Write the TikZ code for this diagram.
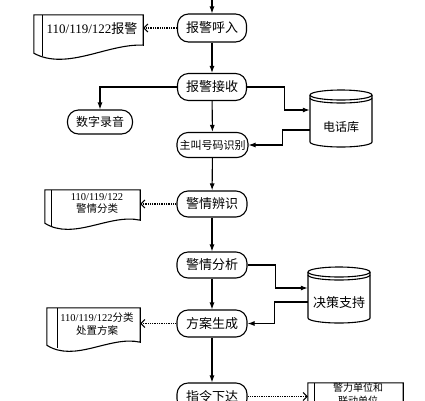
\documentclass[tikz,border=0pt]{standalone}
\usepackage{fontspec}
\setmainfont{Liberation Serif}
\newfontfamily\cjk{Noto Sans CJK SC}
\usetikzlibrary{arrows.meta,calc}
\newcommand\docoutline[3]{%
  \draw[shapeline] (#1.north west) -- (#1.north east) -- ($(#1.south east)+(0,-#2)$)
    .. controls ($(#1.south west)!0.68!(#1.south east)+(0,-10)$) and ($(#1.south west)!0.3!(#1.south east)+(0,18)$) .. (#1.south west) -- cycle;
  \draw[shapeline] ($(#1.north west)+(#3,0)$) -- ($(#1.south west)+(#3,3)$);}
\newcommand\cyldraw[5]{% cx, rx, top, bottom, second
  \draw[shapeline] (#1,#3) ellipse[x radius=#2pt,y radius=5pt];
  \draw[shapeline] ($(#1,#5)+(-#2,0)$) arc[start angle=180,end angle=360,x radius=#2pt,y radius=5pt];
  \draw[shapeline] ($(#1,#3)+(-#2,0)$) -- ($(#1,#4)+(-#2,0)$) arc[start angle=180,end angle=360,x radius=#2pt,y radius=5pt] -- ($(#1,#3)+(#2,0)$);}
\begin{document}
\begin{tikzpicture}[x=1pt,y=-1pt,
  shapeline/.style={line width=1.1pt},
  proc/.style={draw,line width=1.1pt,rounded corners=11pt,minimum height=27pt,minimum width=70pt,inner sep=0pt,font=\cjk\fontsize{13}{15}\selectfont},
  area/.style={inner sep=0pt},
  doctext/.style={align=center,inner sep=0pt,font=\fontsize{10.5}{12.5}\selectfont},
  arr/.style={line width=1.1pt,-{Latex[length=7pt,width=5pt]}},
  darr/.style={line width=1.3pt,densely dotted,-{Straight Barb[length=4pt,width=8pt,line width=1pt]}}]
\clip (0,0) rectangle (425,400);
\fill[white] (0,0) rectangle (425,400);

% main process nodes
\node[proc,minimum height=28pt,minimum width=69pt] (hr) at (212,28) {报警呼入};
\node[proc,minimum width=69pt] (js) at (212,87) {报警接收};
\node[proc,minimum width=65pt,minimum height=24pt,font=\cjk\fontsize{12}{14}\selectfont] (sz) at (100,122) {数字录音};
\node[proc,minimum width=71pt,minimum height=25pt,font=\cjk\fontsize{11}{13}\selectfont] (zj) at (212.5,145) {主叫号码识别};
\node[proc,minimum height=26pt] (bs) at (212,204) {警情辨识};
\node[proc,minimum height=26pt] (fx) at (212,265) {警情分析};
\node[proc] (fa) at (212,323.5) {方案生成};
\node[proc] (zl) at (212,396.5) {指令下达};
\coordinate (topin) at (212,-5);

% databases
\node[area,minimum width=62pt,minimum height=57pt] (dh) at (341,118.5) {};
\cyldraw{341}{31}{95}{142}{98}
\node[inner sep=0pt,font=\cjk\fontsize{12}{14}\selectfont] (dht) at (341,127) {电话库};
\node[area,minimum width=62pt,minimum height=56pt] (jc) at (339,295) {};
\cyldraw{339}{31}{272}{318}{275}
\node[inner sep=0pt,font=\cjk\fontsize{13}{15}\selectfont] (jct) at (339,303) {决策支持};

% documents
\node[area,minimum width=109pt,minimum height=38pt] (d1) at (88.5,34) {};
\docoutline{d1}{8}{9}
\node[inner sep=0pt,font=\fontsize{13}{15}\selectfont] (t1) at (92,29) {110/119/122{\cjk 报警}};
\node[area,minimum width=95pt,minimum height=33pt] (d2) at (92.5,206.5) {};
\docoutline{d2}{3}{7}
\node[doctext,font=\fontsize{10.5}{12}\selectfont] (t2) at (97,203) {110/119/122\\{\cjk 警情分类}};
\node[area,minimum width=93pt,minimum height=37pt] (d3) at (93.5,326.5) {};
\docoutline{d3}{3}{11}
\node[doctext,font=\fontsize{10.5}{13}\selectfont] (t3) at (97,324.5) {110/119/122{\cjk 分类}\\{\cjk 处置方案}};
\node[area,minimum width=95pt,minimum height=34pt] (d4) at (355.5,400) {};
\docoutline{d4}{3}{7}
\node[doctext,font=\cjk\fontsize{10}{13}\selectfont] (t4) at (358,394.5) {警力单位和\\联动单位};

% main flow
\draw[arr] (topin) -- (hr.north);
\draw[arr] (hr) -- (js);
\draw[arr] (js) -- (zj);
\draw[arr] (zj) -- (bs);
\draw[arr] (bs) -- (fx);
\draw[arr] (fx) -- (fa);
\draw[arr] (fa) -- (zl);

% side flows
\draw[arr] (js.west) -| (sz.north);
\draw[arr] (js.east) -- ++(37,0) |- ($(dh.west)+(0,-8.5)$);
\draw[arr] ($(dh.west)+(0,11.5)$) -- ++(-27,0) |- (zj.east);
\draw[arr] (fx.east) -- ++(28,0) |- ($(jc.west)+(0,-7)$);
\draw[arr] ($(jc.west)+(0,7)$) -- ++(-33,0) |- (fa.east);

% dotted outputs
\draw[darr] (hr.west) -- (hr.west -| d1.east);
\draw[darr] (bs.west) -- (bs.west -| d2.east);
\draw[darr] (fa.west) -- (fa.west -| d3.east);
\draw[darr] (zl.east) -- (zl.east -| d4.west);
\end{tikzpicture}
\end{document}
